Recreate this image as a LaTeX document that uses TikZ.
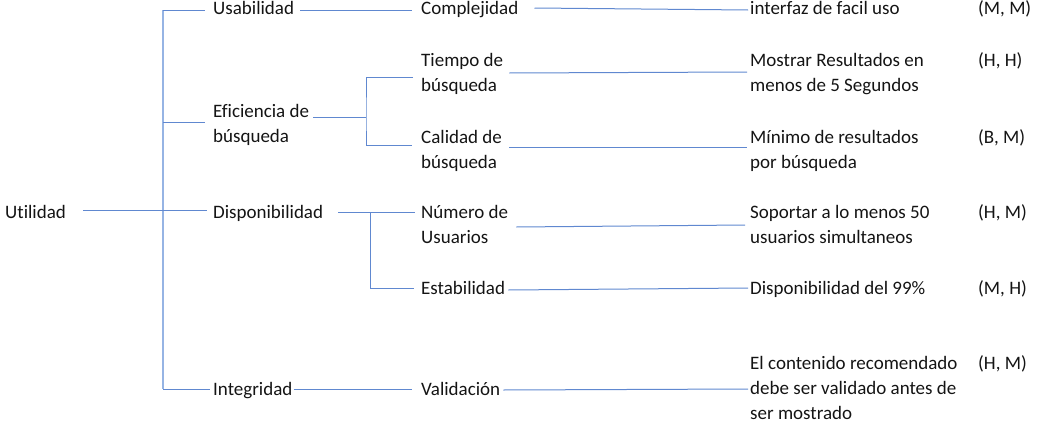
\documentclass[tikz,border=0pt]{standalone}
\usepackage{fontspec}
\setmainfont[Ligatures=NoCommon]{Carlito}
\definecolor{lnc}{RGB}{96,136,208}
\definecolor{trc}{RGB}{150,180,228}
\definecolor{tc}{RGB}{20,20,20}
\newcommand\twoln[2]{\vtop{\baselineskip=25pt\hbox{#1}\hbox{#2}}}
\newcommand\threeln[3]{\vtop{\baselineskip=25pt\hbox{#1}\hbox{#2}\hbox{#3}}}
\tikzset{
  t/.style={anchor=base west, inner sep=0pt, font=\fontsize{19}{25}\selectfont, text=tc},
  ln/.style={draw=lnc, line width=1pt},
  trunk/.style={draw=trc, line width=1.6pt}
}
\begin{document}
\begin{tikzpicture}[x=1pt,y=-1pt]
\useasboundingbox (0,0) rectangle (1045,439);
% level 1
\node[t] (util) at (5,218) {Utilidad};
% level 2
\node[t] (usab) at (213,15) {Usabilidad};
\node[t] (efic) at (213,117) {\twoln{Eficiencia de}{búsqueda}};
\node[t] (disp) at (213,218) {Disponibilidad};
\node[t] (integ) at (213,395) {Integridad};
% level 3
\node[t] (compl) at (421,15) {Complejidad};
\node[t] (tiempo) at (421,66) {\twoln{Tiempo de}{búsqueda}};
\node[t] (calidad) at (421,143) {\twoln{Calidad de}{búsqueda}};
\node[t] (numero) at (421,218) {\twoln{Número de}{Usuarios}};
\node[t] (estab) at (421,294) {Estabilidad};
\node[t] (valid) at (421,395) {Validación};
% level 4
\node[t] (interf) at (750,15) {interfaz de facil uso};
\node[t] (mostrar) at (750,66) {\twoln{Mostrar Resultados en}{menos de 5 Segundos}};
\node[t] (minimo) at (750,143) {\twoln{Mínimo de resultados}{por búsqueda}};
\node[t] (soport) at (750,218) {\twoln{Soportar a lo menos 50}{usuarios simultaneos}};
\node[t] (dispo) at (750,294) {Disponibilidad del 99\%};
\node[t] (conten) at (750,369) {\threeln{El contenido recomendado}{debe ser validado antes de}{ser mostrado}};
% ratings
\node[t] (r1) at (978,15) {(M, M)};
\node[t] (r2) at (978,66) {(H, H)};
\node[t] (r3) at (978,143) {(B, M)};
\node[t] (r4) at (978,218) {(H, M)};
\node[t] (r5) at (978,294) {(M, H)};
\node[t] (r6) at (978,369) {(H, M)};
% trunk
\coordinate (tt) at (163,10);
\coordinate (tb) at (163,389);
\coordinate (eb) at ([xshift=-8pt,yshift=-5pt]efic.base west);
\draw[trunk] (tt) -- (tb);
\draw[ln] (tt) -- ([xshift=-8pt,yshift=5pt]usab.base west);
\draw[ln] (tt |- eb) -- (eb);
\draw[ln] (tb) -- ([xshift=-3pt,yshift=6pt]integ.base west);
\draw[ln] ([xshift=17pt,yshift=8pt]util.base east) -- ([xshift=-6pt,yshift=8pt]disp.base west);
% level 2 -> 3
\draw[ln] ([xshift=6pt,yshift=5pt]usab.base east) -- ([xshift=-9pt,yshift=5pt]compl.base west);
\coordinate (b1) at (366,117);
\draw[ln] ([xshift=4pt]efic.base east) -- (b1);
\draw[ln] ([xshift=-8pt,yshift=-11pt]tiempo.base west) -| (b1) |- ([xshift=-9pt,yshift=-2pt]calidad.base west);
\coordinate (b2) at (370,212);
\draw[ln] ([xshift=15pt,yshift=6pt]disp.base east) -- ([xshift=-6pt,yshift=6pt]numero.base west);
\draw[ln] (b2) |- ([xshift=-7pt,yshift=6pt]estab.base west);
\draw[ln] ([xshift=1pt,yshift=6pt]integ.base east) -- ([xshift=-9pt,yshift=6pt]valid.base west);
% level 3 -> 4
\draw[ln] ([xshift=16pt,yshift=7pt]compl.base east) -- ([xshift=-2pt,yshift=5pt]interf.base west);
\draw[ln] ([xshift=6pt,yshift=-7pt]tiempo.base east) -- ([xshift=-3pt,yshift=-6pt]mostrar.base west);
\draw[ln] ([xshift=7pt,yshift=-4pt]calidad.base east) -- ([xshift=-3pt,yshift=-4pt]minimo.base west);
\draw[ln] ([xshift=8pt,yshift=-9pt]numero.base east) -- ([xshift=-5pt,yshift=-7pt]soport.base west);
\draw[ln] ([xshift=3pt,yshift=4pt]estab.base east) -- ([xshift=-2pt,yshift=6pt]dispo.base west);
\draw[ln] ([xshift=3pt,yshift=5pt]valid.base east) -- ([xshift=-2pt,yshift=-20pt]conten.base west);
\end{tikzpicture}
\end{document}
